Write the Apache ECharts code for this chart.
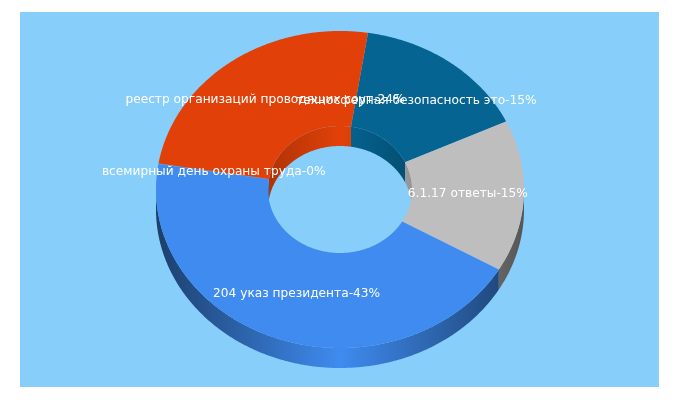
<!DOCTYPE html>
<html>
<head>
<meta charset="utf-8">
<style>html,body{margin:0;padding:0;background:#fff}#c{width:680px;height:400px}</style>
<script src="https://cdn.jsdelivr.net/npm/echarts@6/dist/echarts.min.js"></script>
</head>
<body>
<div id="c"></div>
<script>
var categories = ['техносферная безопасность это','6.1.17 ответы','204 указ президента','всемирный день охраны труда','реестр организаций проводящих соут'];
var values = [15.5, 15.5, 44.15, 0.05, 24.8];
var percentLabels = ['15%','15%','43%','0%','24%'];
var colors = ['#056491','#BEBEBE','#3F8BF0','#3F8BF0','#E14108'];

var CX=340, CY=189.5, RX=184, RY=158.5, IRX=72, IRY=63.5, DEPTH=20, START=8.75;
var total = values.reduce(function(a,b){return a+b;},0);
var starts=[], acc=START;
values.forEach(function(v){starts.push(acc); acc+=v/total*360;});

function pt(rx,ry,deg,dy){var t=deg*Math.PI/180;return [CX+rx*Math.sin(t),CY-ry*Math.cos(t)+(dy||0)];}
function arc(rx,ry,a,b,dy){var pts=[],n=Math.max(2,Math.ceil(Math.abs(b-a)*2));for(var i=0;i<=n;i++){pts.push(pt(rx,ry,a+(b-a)*i/n,dy));}return pts;}
function shade(hex,f){var n=parseInt(hex.slice(1),16);return 'rgb('+Math.round((n>>16)*f)+','+Math.round(((n>>8)&255)*f)+','+Math.round((n&255)*f)+')';}
function grad(hex,x0,x1,edge){return new echarts.graphic.LinearGradient(x0,0,x1,0,[{offset:0,color:shade(hex,edge)},{offset:0.5,color:hex},{offset:1,color:shade(hex,edge)}],true);}
function overlap(a,b,lo,hi){
  var out=[];for(var k=-1;k<=1;k++){var l=Math.max(a,lo+360*k),h=Math.min(b,hi+360*k);if(h>l)out.push([l,h]);}return out;
}
function span(i,v){return [starts[i],starts[i]+v/total*360];}

function renderWalls(params,api){
  var i=params.dataIndex,s=span(i,api.value(0)),kids=[],c=colors[i];
  overlap(s[0],s[1],90,270).forEach(function(r){
    var top=arc(RX,RY,r[0],r[1],0),bot=arc(RX,RY,r[0],r[1],DEPTH).reverse();
    kids.push({type:'polygon',shape:{points:top.concat(bot)},style:{fill:grad(c,CX-RX,CX+RX,0.45)}});
  });
  overlap(s[0],s[1],270,450).forEach(function(r){
    var top=arc(IRX,IRY,r[0],r[1],0),bot=arc(IRX,IRY,r[0],r[1],DEPTH).reverse();
    kids.push({type:'polygon',shape:{points:top.concat(bot)},style:{fill:grad(c,CX-IRX,CX+IRX,0.78)}});
  });
  return {type:'group',children:kids};
}
function renderTops(params,api){
  var i=params.dataIndex,s=span(i,api.value(0));
  var pts=arc(RX,RY,s[0],s[1],0).concat(arc(IRX,IRY,s[0],s[1],0).reverse());
  return {type:'polygon',shape:{points:pts},style:{fill:colors[i]}};
}
function renderLabels(params,api){
  var i=params.dataIndex,s=span(i,api.value(0));
  var p=pt((RX+IRX)/2,(RY+IRY)/2,(s[0]+s[1])/2,0);
  return {type:'text',style:{text:categories[i]+'-'+percentLabels[i],x:p[0],y:p[1],fill:'#fff',font:'12.2px "DejaVu Sans"',textAlign:'center',textVerticalAlign:'middle'}};
}
var chart=echarts.init(document.getElementById('c'),null,{renderer:'canvas'});
chart.setOption({
  animation:false,
  backgroundColor:'#fff',
  graphic:[{type:'rect',z:-1,silent:true,shape:{x:20,y:12,width:639,height:375},style:{fill:'#87CEFA'}}],
  series:[
    {type:'custom',coordinateSystem:'none',name:'walls',z:2,silent:true,data:values,renderItem:renderWalls},
    {type:'custom',coordinateSystem:'none',name:'tops',z:3,silent:true,data:values,renderItem:renderTops},
    {type:'custom',coordinateSystem:'none',name:'labels',z:4,silent:true,data:values,renderItem:renderLabels}
  ]
});
</script>
</body>
</html>
